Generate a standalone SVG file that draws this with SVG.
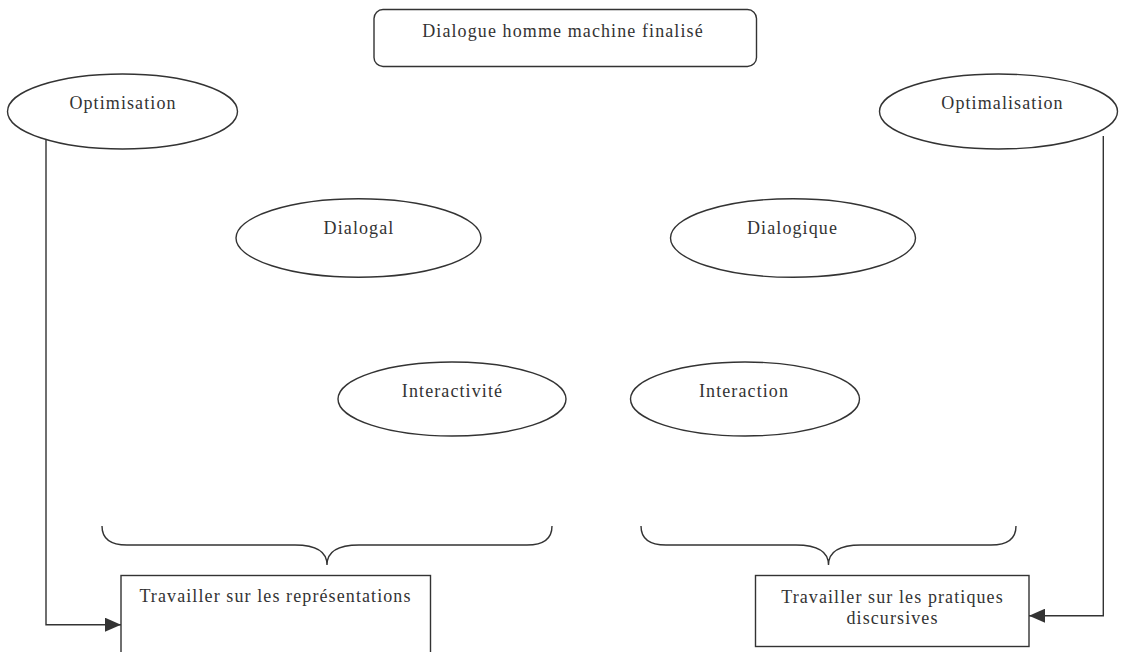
<svg xmlns="http://www.w3.org/2000/svg" width="1126" height="652" viewBox="0 0 1126 652">
<style>
.shape{fill:#fff;stroke:#333;stroke-width:1.4}
.line{fill:none;stroke:#333;stroke-width:1.4}
text{font-family:"Liberation Serif","Times New Roman",serif;font-size:18px;fill:#333;letter-spacing:1.1px;text-anchor:middle}
</style>
<defs>
<marker id="arr" viewBox="0 0 16 14" refX="16" refY="7" markerWidth="16" markerHeight="14" markerUnits="userSpaceOnUse" orient="auto">
<path d="M0,0 L16,7 L0,14 Z" fill="#333"/>
</marker>
</defs>
<rect width="1126" height="652" fill="#fff"/>
<g id="connectors">
<path class="line" d="M46,136 L46,624.7 L121,624.7" marker-end="url(#arr)"/>
<path class="line" d="M1103.3,136 L1103.3,615.7 L1029,615.7" marker-end="url(#arr)"/>
<path id="brace-left" class="line" d="M102,526 Q102,545 127,545 L295,545 Q327,545 327,565 Q327,545 359,545 L527,545 Q552,545 552,526"/>
<path id="brace-right" class="line" d="M641,526 Q641,545 666,545 L796,545 Q828.5,545 828.5,565 Q828.5,545 861,545 L991,545 Q1016,545 1016,526"/>
</g>
<g id="node-top">
<rect class="shape" x="374" y="9.5" width="382.5" height="57" rx="9"/>
<text x="563" y="37.3">Dialogue homme machine finalisé</text>
</g>
<g id="node-optimisation">
<ellipse class="shape" cx="122.5" cy="111.5" rx="115" ry="37.5"/>
<text x="123" y="109.3">Optimisation</text>
</g>
<g id="node-optimalisation">
<ellipse class="shape" cx="998.5" cy="111.5" rx="119" ry="37.5"/>
<text x="1002.5" y="109.3">Optimalisation</text>
</g>
<g id="node-dialogal">
<ellipse class="shape" cx="358.5" cy="238" rx="122.5" ry="39.3"/>
<text x="359" y="234.3">Dialogal</text>
</g>
<g id="node-dialogique">
<ellipse class="shape" cx="793" cy="238" rx="122.5" ry="39.3"/>
<text x="792.5" y="234.3">Dialogique</text>
</g>
<g id="node-interactivite">
<ellipse class="shape" cx="452" cy="399" rx="114" ry="37"/>
<text x="452.5" y="397">Interactivité</text>
</g>
<g id="node-interaction">
<ellipse class="shape" cx="745" cy="399" rx="114.5" ry="37"/>
<text x="744" y="397">Interaction</text>
</g>
<g id="node-representations">
<rect class="shape" x="121" y="575.5" width="309.5" height="84"/>
<text x="275.5" y="602.3">Travailler sur les représentations</text>
</g>
<g id="node-pratiques">
<rect class="shape" x="755.5" y="575.5" width="273.5" height="71"/>
<text x="892.5" y="603.3">Travailler sur les pratiques</text>
<text x="892.5" y="624">discursives</text>
</g>
</svg>
